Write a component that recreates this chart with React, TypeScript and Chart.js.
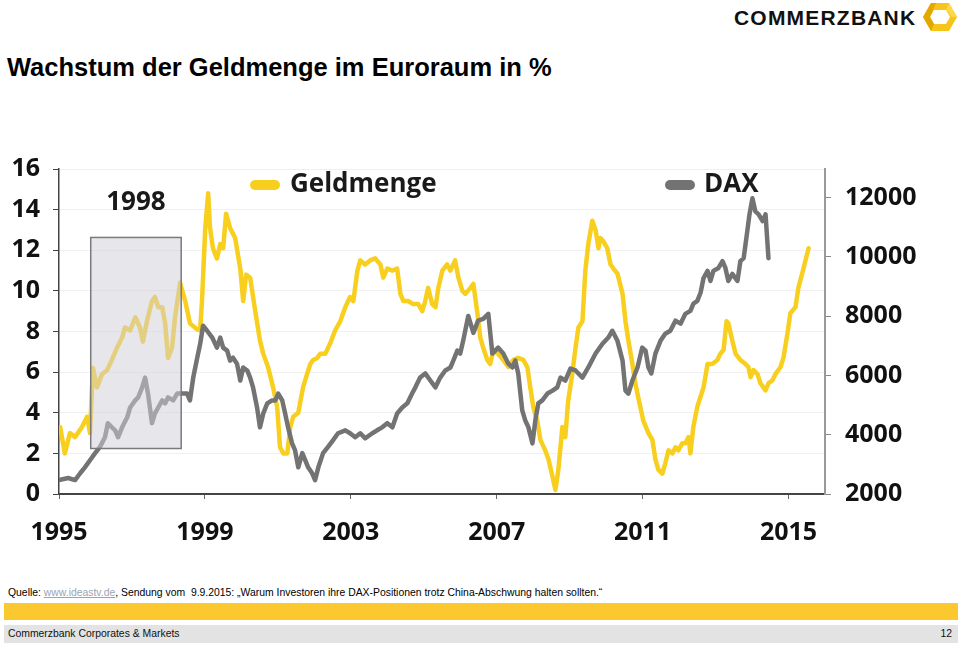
import React, { useEffect, useRef } from "react";
import { Chart, registerables } from "chart.js";

Chart.register(...registerables);

// ---------- data ----------
const geldYears = [
  1995.03, 1995.16, 1995.3, 1995.44, 1995.63, 1995.77, 1995.85, 1995.93, 1996.04, 1996.18,
  1996.32, 1996.45, 1996.59, 1996.73, 1996.81, 1996.95, 1997.09, 1997.22, 1997.3, 1997.41,
  1997.55, 1997.63, 1997.72, 1997.83, 1997.91, 1997.99, 1998.1, 1998.18, 1998.32, 1998.46,
  1998.59, 1998.79, 1998.87, 1998.92, 1999.01, 1999.09, 1999.14, 1999.22, 1999.33, 1999.42,
  1999.5, 1999.58, 1999.69, 1999.83, 1999.97, 2000.05, 2000.13, 2000.24, 2000.38, 2000.51,
  2000.6, 2000.73, 2000.87, 2000.98, 2001.06, 2001.15, 2001.26, 2001.34, 2001.42, 2001.56,
  2001.69, 2001.8, 2001.89, 2001.97, 2002.08, 2002.16, 2002.3, 2002.43, 2002.57, 2002.71,
  2002.85, 2002.98, 2003.07, 2003.18, 2003.26, 2003.39, 2003.53, 2003.67, 2003.81, 2003.89,
  2004.0, 2004.14, 2004.27, 2004.36, 2004.44, 2004.57, 2004.71, 2004.85, 2004.96, 2005.04,
  2005.12, 2005.23, 2005.32, 2005.4, 2005.51, 2005.64, 2005.73, 2005.86, 2005.95, 2006.06,
  2006.14, 2006.28, 2006.36, 2006.47, 2006.55, 2006.63, 2006.74, 2006.82, 2006.91, 2007.04,
  2007.18, 2007.32, 2007.46, 2007.59, 2007.73, 2007.84, 2007.92, 2008.0, 2008.11, 2008.2,
  2008.33, 2008.42, 2008.53, 2008.61, 2008.69, 2008.8, 2008.88, 2008.96, 2009.07, 2009.16,
  2009.24, 2009.35, 2009.43, 2009.51, 2009.62, 2009.71, 2009.79, 2009.84, 2009.92, 2010.03,
  2010.12, 2010.2, 2010.31, 2010.45, 2010.53, 2010.61, 2010.72, 2010.8, 2010.88, 2011.02,
  2011.16, 2011.27, 2011.35, 2011.43, 2011.54, 2011.62, 2011.71, 2011.82, 2011.9, 2011.98,
  2012.09, 2012.17, 2012.26, 2012.31, 2012.39, 2012.5, 2012.59, 2012.67, 2012.78, 2012.91,
  2013.05, 2013.13, 2013.22, 2013.3, 2013.35, 2013.46, 2013.55, 2013.68, 2013.82, 2013.9,
  2013.96, 2014.04, 2014.15, 2014.23, 2014.37, 2014.45, 2014.56, 2014.64, 2014.78, 2014.86,
  2014.97, 2015.05, 2015.19, 2015.27, 2015.41, 2015.55,
];
const geldValues = [
  3.3, 2.0, 3.0, 2.8, 3.3, 3.8, 3.0, 6.2, 5.25, 5.9,
  6.1, 6.6, 7.2, 7.7, 8.2, 8.05, 8.7, 8.2, 7.5, 8.5,
  9.5, 9.7, 9.2, 9.2, 8.4, 6.7, 7.2, 8.7, 10.4, 9.5,
  8.4, 8.1, 8.05, 9.5, 13.1, 14.8, 13.1, 12.1, 11.6, 12.3,
  12.1, 13.8, 13.1, 12.6, 11.1, 9.5, 10.8, 10.65, 9.0, 7.55,
  6.9, 6.25, 5.25, 4.3, 2.3, 2.0, 2.0, 3.3, 3.8, 4.0,
  5.25, 5.9, 6.4, 6.6, 6.7, 6.9, 6.9, 7.4, 8.05, 8.5,
  9.2, 9.7, 9.5, 11.0, 11.5, 11.3, 11.5, 11.6, 11.3, 10.65,
  11.1, 11.0, 11.1, 9.85, 9.5, 9.5, 9.35, 9.35, 9.0, 9.5,
  10.15, 9.35, 9.2, 10.15, 11.0, 11.3, 11.0, 11.5, 10.65, 10.0,
  9.85, 10.15, 10.35, 8.9, 7.7, 7.2, 6.6, 6.4, 7.1, 6.9,
  6.6, 6.25, 6.6, 6.7, 6.6, 6.25, 5.25, 4.3, 3.6, 2.65,
  2.15, 1.7, 0.85, 0.2, 1.2, 3.3, 2.8, 4.6, 5.9, 7.2,
  8.2, 8.5, 11.0, 12.3, 13.45, 13.0, 12.1, 12.6, 12.45, 12.1,
  11.3, 11.1, 10.85, 9.85, 8.5, 7.55, 6.4, 5.45, 4.75, 3.6,
  3.0, 2.65, 1.7, 1.2, 1.0, 1.5, 2.15, 2.0, 2.3, 2.15,
  2.5, 2.5, 2.8, 2.0, 3.3, 4.3, 4.8, 5.25, 6.4, 6.4,
  6.6, 6.9, 7.1, 8.5, 8.4, 7.55, 6.9, 6.6, 6.4, 6.25,
  5.75, 6.1, 5.9, 5.45, 5.1, 5.45, 5.6, 5.9, 6.25, 6.7,
  7.9, 8.9, 9.2, 10.15, 11.1, 12.1,
];

const daxYears = [
  1995.0, 1995.25, 1995.44, 1995.58, 1995.71, 1995.85, 1995.99, 1996.12, 1996.26, 1996.34,
  1996.45, 1996.54, 1996.62, 1996.73, 1996.87, 1996.95, 1997.09, 1997.17, 1997.28, 1997.36,
  1997.44, 1997.55, 1997.63, 1997.72, 1997.83, 1997.91, 1997.99, 1998.13, 1998.24, 1998.37,
  1998.51, 1998.59, 1998.68, 1998.79, 1998.87, 1998.95, 1999.06, 1999.2, 1999.33, 1999.42,
  1999.5, 1999.61, 1999.69, 1999.77, 1999.88, 1999.97, 2000.05, 2000.16, 2000.24, 2000.32,
  2000.43, 2000.51, 2000.6, 2000.71, 2000.84, 2000.93, 2001.01, 2001.12, 2001.2, 2001.28,
  2001.39, 2001.47, 2001.56, 2001.67, 2001.75, 2001.83, 2001.94, 2002.02, 2002.11, 2002.24,
  2002.37, 2002.51, 2002.65, 2002.85, 2002.98, 2003.12, 2003.26, 2003.39, 2003.59, 2003.72,
  2003.86, 2004.0, 2004.14, 2004.27, 2004.41, 2004.55, 2004.68, 2004.77, 2004.9, 2005.04,
  2005.18, 2005.32, 2005.45, 2005.59, 2005.73, 2005.81, 2005.92, 2006.0, 2006.08, 2006.22,
  2006.36, 2006.49, 2006.63, 2006.77, 2006.88, 2006.96, 2007.04, 2007.18, 2007.32, 2007.43,
  2007.51, 2007.59, 2007.7, 2007.78, 2007.87, 2007.98, 2008.06, 2008.14, 2008.25, 2008.39,
  2008.53, 2008.66, 2008.75, 2008.88, 2009.02, 2009.16, 2009.35, 2009.51, 2009.71, 2009.9,
  2010.06, 2010.17, 2010.31, 2010.45, 2010.53, 2010.61, 2010.72, 2010.86, 2010.99, 2011.08,
  2011.16, 2011.24, 2011.35, 2011.49, 2011.62, 2011.76, 2011.9, 2012.04, 2012.17, 2012.31,
  2012.39, 2012.5, 2012.59, 2012.67, 2012.78, 2012.86, 2012.94, 2013.08, 2013.19, 2013.27,
  2013.35, 2013.46, 2013.6, 2013.68, 2013.77, 2013.88, 2013.93, 2014.01, 2014.09, 2014.18,
  2014.29, 2014.37, 2014.45,
];
const daxValues = [
  2470, 2540, 2470, 2700, 2900, 3140, 3380, 3580, 3915, 4390,
  4250, 4150, 3915, 4250, 4590, 4920, 5160, 5260, 5600, 5930,
  5390, 4390, 4720, 4920, 5160, 5060, 5260, 5160, 5390, 5390,
  5390, 5160, 5930, 6600, 7070, 7680, 7510, 7280, 6940, 7280,
  6940, 6840, 6500, 6600, 6400, 5830, 6270, 6170, 5930, 5600,
  4920, 4250, 4720, 5060, 5160, 5160, 5390, 5160, 4720, 4250,
  3710, 3480, 2900, 3380, 3140, 2900, 2700, 2470, 2900, 3380,
  3580, 3810, 4050, 4150, 4050, 3915, 4050, 3880, 4050, 4150,
  4250, 4390, 4250, 4720, 4920, 5060, 5390, 5600, 5930, 6070,
  5830, 5600, 5930, 6170, 6270, 6500, 6840, 6740, 7170, 8010,
  7440, 7850, 7910, 8080, 6740, 6840, 6940, 6740, 6400, 6270,
  6500, 6070, 4820, 4490, 4250, 3710, 4490, 5060, 5160, 5390,
  5490, 5600, 5930, 5830, 6230, 6170, 5930, 6270, 6740, 7070,
  7280, 7510, 7170, 6500, 5490, 5390, 5830, 6270, 6940, 6840,
  6270, 6070, 6740, 7170, 7410, 7510, 7850, 7750, 8080, 8180,
  8420, 8520, 8800, 9290, 9530, 9190, 9530, 9630, 9860, 9630,
  9190, 9430, 9190, 9860, 9960, 10970, 11440, 11980, 11540, 11440,
  11210, 11440, 9960,
];

const xTickYears = [1995, 1999, 2003, 2007, 2011, 2015];
const leftTicks = [0, 2, 4, 6, 8, 10, 12, 14, 16];
const rightTicks = [2000, 4000, 6000, 8000, 10000, 12000];
const highlightYears = [1995.87, 1998.35];
const highlightRange = [2.24, 12.63];
const highlightLabel = "1998";
const seriesNames = ["Geldmenge", "DAX"];

const YELLOW = "#F8CF1E";
const GREY = "#737373";
const AXIS_FONT = { family: "'Open Sans', sans-serif", size: 25, weight: "bold" as const };
const CANVAS_FONT = "bold 26px 'Open Sans', sans-serif";

const overlayPlugin = {
  id: "overlay",
  afterDatasetsDraw(chart: any) {
    const { ctx, chartArea } = chart;
    const x = chart.scales.x;
    const y = chart.scales.y;
    const x0 = x.getPixelForValue(highlightYears[0]);
    const x1 = x.getPixelForValue(highlightYears[1]);
    const yTop = y.getPixelForValue(highlightRange[1]);
    const yBot = y.getPixelForValue(highlightRange[0]);
    ctx.save();
    ctx.fillStyle = "rgba(208,208,216,0.52)";
    ctx.fillRect(x0, yTop, x1 - x0, yBot - yTop);
    ctx.strokeStyle = "#7a7a7a";
    ctx.lineWidth = 1.5;
    ctx.strokeRect(x0, yTop, x1 - x0, yBot - yTop);

    ctx.fillStyle = "#1a1a1a";
    ctx.font = CANVAS_FONT;
    ctx.textAlign = "center";
    ctx.textBaseline = "middle";
    ctx.fillText(highlightLabel, (x0 + x1) / 2, chartArea.top + 34);

    // legend
    const ly = chartArea.top + 16;
    const items = [
      { name: seriesNames[0], color: YELLOW, sx: chartArea.left + 191, tx: chartArea.left + 231 },
      { name: seriesNames[1], color: GREY, sx: chartArea.left + 606, tx: chartArea.left + 645 },
    ];
    ctx.textAlign = "left";
    for (const it of items) {
      ctx.strokeStyle = it.color;
      ctx.lineWidth = 10;
      ctx.lineCap = "round";
      ctx.beginPath();
      ctx.moveTo(it.sx + 5, ly);
      ctx.lineTo(it.sx + 25, ly);
      ctx.stroke();
      ctx.fillStyle = "#1a1a1a";
      ctx.font = CANVAS_FONT;
      ctx.fillText(it.name, it.tx, ly);
    }
    ctx.restore();
  },
};

function ChartCanvas() {
  const ref = useRef<HTMLCanvasElement | null>(null);
  useEffect(() => {
    if (!ref.current) return;
    const geldData = geldYears.map((yr, i) => ({ x: yr, y: geldValues[i] }));
    const daxData = daxYears.map((yr, i) => ({ x: yr, y: daxValues[i] }));
    const chart = new Chart(ref.current, {
      type: "line",
      data: {
        datasets: [
          {
            label: seriesNames[1],
            data: daxData,
            yAxisID: "y1",
            borderColor: GREY,
            borderWidth: 4.5,
            pointRadius: 0,
            tension: 0,
            borderJoinStyle: "round",
            borderCapStyle: "round",
            order: 0,
          },
          {
            label: seriesNames[0],
            data: geldData,
            yAxisID: "y",
            borderColor: YELLOW,
            borderWidth: 4.5,
            pointRadius: 0,
            tension: 0,
            borderJoinStyle: "round",
            borderCapStyle: "round",
            order: 1,
          },
        ],
      },
      options: {
        animation: false,
        responsive: false,
        devicePixelRatio: 1,
        layout: { padding: { top: 28, left: 0, right: 0, bottom: 0 } },
        plugins: { legend: { display: false }, tooltip: { enabled: false } },
        scales: {
          x: {
            type: "linear",
            min: 1995,
            max: 2016,
            afterBuildTicks: (s: any) => {
              s.ticks = xTickYears.map((v) => ({ value: v }));
            },
            afterFit: (s: any) => {
              s.height = 66;
            },
            ticks: {
              font: AXIS_FONT,
              color: "#111",
              padding: 19,
              maxRotation: 0,
              autoSkip: false,
              callback: (v: any) => String(v),
            },
            grid: { drawOnChartArea: false, tickLength: 5, tickColor: "#666", tickWidth: 1 },
            border: { color: "#444", width: 2 },
          },
          y: {
            position: "left",
            min: 0,
            max: 16,
            afterBuildTicks: (s: any) => {
              s.ticks = leftTicks.map((v) => ({ value: v }));
            },
            afterFit: (s: any) => {
              s.width = 59;
            },
            ticks: {
              font: AXIS_FONT,
              color: "#111",
              padding: 13,
              callback: (v: any) => String(v),
            },
            grid: { color: "#f0f0f0", tickLength: 6, tickColor: "#444", lineWidth: 1 },
            border: { color: "#444", width: 1.5 },
          },
          y1: {
            position: "right",
            min: 2000,
            max: 12970,
            afterBuildTicks: (s: any) => {
              s.ticks = rightTicks.map((v) => ({ value: v }));
            },
            afterFit: (s: any) => {
              s.width = 135;
            },
            ticks: {
              font: AXIS_FONT,
              color: "#111",
              padding: 14,
              callback: (v: any) => String(v),
            },
            grid: { drawOnChartArea: false, tickLength: 6, tickColor: "#888" },
            border: { color: "#999", width: 2 },
          },
        },
      },
      plugins: [overlayPlugin],
    } as any);
    return () => chart.destroy();
  }, []);
  return (
    <canvas
      ref={ref}
      width={960}
      height={420}
      style={{ position: "absolute", left: 0, top: 140, width: 960, height: 420 }}
    />
  );
}

function Logo() {
  return (
    <>
      <div
        style={{
          position: "absolute",
          left: 734,
          top: 3,
          fontFamily: "'Liberation Sans', Arial, sans-serif",
          fontWeight: 700,
          fontSize: 21,
          letterSpacing: 1.2,
          color: "#111",
          lineHeight: "30px",
          whiteSpace: "nowrap",
        }}
      >
        COMMERZBANK
      </div>
      <svg width="36" height="30" viewBox="0 0 36 30" style={{ position: "absolute", left: 922, top: 2 }}>
        <polygon points="9,1 27,1 35,15 27,29 9,29 1,15" fill="#F7C51A" />
        <polygon points="12,8 24,8 28,15 24,22 12,22 8,15" fill="#ffffff" />
        <polygon points="1,15 9,1 14,1 8,15 12,22 9,29" fill="#E2A800" />
        <polygon points="27,1 35,15 30,15 24,8" fill="#FFD84A" />
      </svg>
    </>
  );
}

export default function App() {
  return (
    <div
      style={{
        position: "absolute",
        left: 0,
        top: 0,
        width: 960,
        height: 645,
        background: "#fff",
        overflow: "hidden",
        fontFamily: "'Liberation Sans', Arial, sans-serif",
      }}
    >
      <Logo />
      <div
        style={{
          position: "absolute",
          left: 7,
          top: 52,
          fontSize: 25.5,
          fontWeight: 700,
          color: "#000",
          whiteSpace: "nowrap",
          lineHeight: "30px",
        }}
      >
        Wachstum der Geldmenge im Euroraum in %
      </div>
      <ChartCanvas />
      <div
        style={{
          position: "absolute",
          left: 8,
          top: 586,
          fontSize: 10.4,
          color: "#000",
          whiteSpace: "pre",
          lineHeight: "14px",
        }}
      >
        {"Quelle: "}
        <span style={{ color: "#9aa4b4", textDecoration: "underline" }}>www.ideastv.de</span>
        {", Sendung vom  9.9.2015: \u201EWarum Investoren ihre DAX-Positionen trotz China-Abschwung halten sollten.\u201C"}
      </div>
      <div style={{ position: "absolute", left: 4, top: 603, width: 954, height: 17, background: "#FCC830" }} />
      <div
        style={{
          position: "absolute",
          left: 4,
          top: 625,
          width: 954,
          height: 18,
          background: "#E3E3E3",
          fontSize: 10.4,
          lineHeight: "18px",
          color: "#111",
        }}
      >
        <span style={{ position: "absolute", left: 4 }}>Commerzbank Corporates &amp; Markets</span>
        <span style={{ position: "absolute", right: 6 }}>12</span>
      </div>
    </div>
  );
}
